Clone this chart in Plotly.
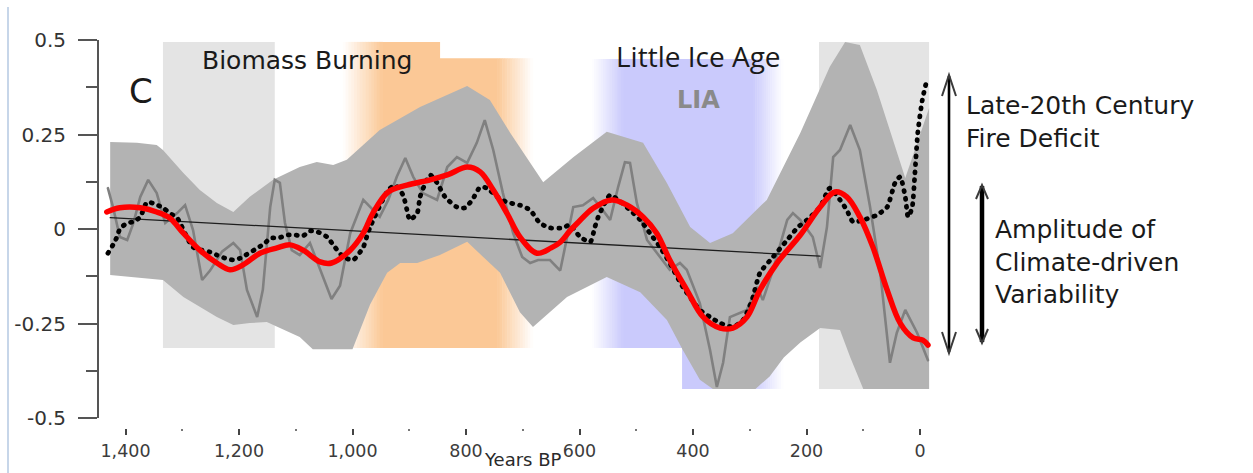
import plotly.graph_objects as go

# ---------------- data ----------------
band_upper_years = [1427, 1380, 1345, 1334, 1298, 1269, 1239, 1210, 1181, 1140, 1093, 1063, 1034, 1010,
                    952, 881, 798, 758, 722, 664, 611, 552, 488, 446, 405, 370, 330, 270, 211, 159,
                    132, 106, 76, 48, 26, -16]
band_upper = [0.230, 0.228, 0.222, 0.209, 0.148, 0.103, 0.069, 0.045, 0.085, 0.130, 0.164, 0.177, 0.169, 0.183,
              0.262, 0.323, 0.378, 0.341, 0.254, 0.124, 0.190, 0.257, 0.228, 0.122, 0.005, -0.037, -0.011, 0.077,
              0.254, 0.429, 0.495, 0.487, 0.368, 0.235, 0.135, 0.320]

band_lower_years = [1427, 1387, 1334, 1298, 1269, 1239, 1210, 1181, 1151, 1133, 1093, 1070, 1000, 969,
                    939, 916, 886, 846, 798, 740, 705, 682, 622, 552, 493, 446, 418, 388, 365, 290,
                    265, 240, 211, 176, 141, 123, 100, -16]
band_lower = [-0.122, -0.127, -0.135, -0.180, -0.206, -0.233, -0.254, -0.249, -0.246, -0.259, -0.286, -0.318,
              -0.318, -0.200, -0.116, -0.090, -0.090, -0.069, -0.034, -0.116, -0.220, -0.259, -0.180, -0.127,
              -0.167, -0.241, -0.320, -0.399, -0.423, -0.423, -0.390, -0.340, -0.300, -0.262, -0.267, -0.339,
              -0.423, -0.423]

grey_years = [1431, 1422, 1410, 1397, 1386, 1374, 1360, 1345, 1330, 1309, 1295, 1281, 1265, 1251, 1230,
              1210, 1198, 1186, 1168, 1158, 1145, 1137, 1128, 1119, 1107, 1093, 1075, 1057, 1037, 1022,
              1004, 981, 969, 952, 937, 922, 907, 893, 876, 851, 833, 816, 798, 781, 767,
              752, 735, 717, 701, 687, 673, 652, 634, 611, 594, 576, 559, 546, 532, 520,
              511, 499, 481, 441, 423, 411, 388, 370, 358, 347, 335, 305, 287, 277, 259,
              234, 224, 211, 189, 176, 164, 153, 141, 123, 106, 88, 70, 53, 41, 26,
              5, -14]
grey_vals = [0.108, 0.058, -0.021, -0.029, 0.016, 0.085, 0.130, 0.095, 0.016, 0.042, 0.063, -0.003, -0.135, -0.110, -0.060,
             -0.037, -0.056, -0.161, -0.233, -0.161, 0.058, 0.130, 0.122, 0.016, -0.056, -0.069, -0.037, -0.108, -0.185, -0.150,
             -0.011, 0.077, 0.058, 0.032, 0.077, 0.138, 0.188, 0.138, 0.095, 0.077, 0.164, 0.190, 0.175, 0.228, 0.288,
             0.209, 0.095, -0.011, -0.074, -0.090, -0.082, -0.082, -0.110, 0.058, 0.063, 0.082, 0.050, 0.024, 0.111, 0.177,
             0.175, 0.069, -0.029, -0.108, -0.090, -0.108, -0.196, -0.320, -0.418, -0.354, -0.233, -0.214, -0.153, -0.188, -0.108,
             0.024, 0.042, 0.024, -0.021, -0.103, 0.005, 0.190, 0.209, 0.275, 0.209, 0.058, -0.116, -0.354, -0.275, -0.214,
             -0.275, -0.347]

dot_years = [1431, 1422, 1415, 1410, 1397, 1386, 1374, 1362, 1348, 1334,
             1322, 1309, 1281, 1251, 1239, 1225, 1210, 1198, 1154, 1145,
             1131, 1115, 1101, 1087, 1075, 1061, 1045, 1031, 1016, 999,
             981, 975, 969, 937, 925, 911, 904, 899, 886, 881,
             869, 863, 851, 837, 816, 802, 789, 775, 763, 745,
             728, 705, 687, 670, 652, 629, 617, 599, 581, 573,
             567, 559, 546, 532, 511, 493, 476, 458, 441, 418,
             388, 370, 352, 330, 312, 296, 282, 259, 234, 215,
             199, 176, 159, 141, 129, 118, 100, 76, 58, 44,
             35, 26, 21, 14, 9, 4, -4, -12]
dot_vals = [-0.064, -0.042, -0.021, 0.000, 0.016, 0.019, 0.032, 0.071, 0.066, 0.056,
            0.042, 0.029, -0.048, -0.061, -0.069, -0.077, -0.082, -0.077, -0.037, -0.024,
            -0.024, -0.016, -0.016, -0.018, -0.005, -0.008, -0.021, -0.048, -0.074, -0.082,
            -0.048, -0.021, 0.005, 0.103, 0.116, 0.090, 0.050, 0.024, 0.042, 0.085,
            0.130, 0.143, 0.122, 0.085, 0.058, 0.056, 0.077, 0.111, 0.108, 0.085,
            0.071, 0.063, 0.050, 0.016, 0.003, 0.003, 0.011, -0.021, -0.034, 0.005,
            0.032, 0.058, 0.090, 0.077, 0.050, 0.024, -0.011, -0.048, -0.090, -0.153,
            -0.214, -0.233, -0.249, -0.259, -0.241, -0.188, -0.116, -0.074, -0.029, 0.005,
            0.024, 0.058, 0.108, 0.077, 0.050, 0.019, 0.024, 0.037, 0.058, 0.122,
            0.138, 0.085, 0.032, 0.056, 0.148, 0.254, 0.341, 0.394]

red_years = [1433, 1410, 1374, 1345, 1322, 1298, 1269, 1239, 1216, 1193, 1163, 1133, 1110, 1087, 1057,
             1037, 1004, 981, 964, 937, 904, 863, 833, 798, 775, 752, 728, 705, 675, 650,
             634, 617, 604, 576, 543, 516, 488, 464, 441, 411, 382, 352, 330, 305, 282,
             252, 211, 176, 150, 129, 106, 83, 58, 35, 12, -5, -14]
red_vals = [0.045, 0.056, 0.056, 0.045, 0.029, -0.011, -0.056, -0.090, -0.108, -0.095, -0.064, -0.050, -0.042, -0.056, -0.087,
            -0.090, -0.056, -0.011, 0.042, 0.098, 0.116, 0.130, 0.143, 0.164, 0.151, 0.103, 0.042, -0.021, -0.064, -0.050,
            -0.035, -0.005, 0.015, 0.055, 0.077, 0.063, 0.032, -0.011, -0.082, -0.161, -0.233, -0.262, -0.262, -0.233, -0.161,
            -0.090, -0.016, 0.058, 0.098, 0.085, 0.032, -0.048, -0.161, -0.249, -0.288, -0.294, -0.307]

trend_years = [1427, 176]
trend_vals = [0.030, -0.072]

x_tick_vals = [1400, 1200, 1000, 800, 600, 400, 200, 0]
x_tick_text = ["1,400", "1,200", "1,000", "800", "600", "400", "200", "0"]
x_minor_vals = [1300, 1100, 900, 700, 500, 300, 100]
y_tick_vals = [-0.5, -0.25, 0, 0.25, 0.5]
y_tick_text = ["-0.5", "-0.25", "0", "0.25", "0.5"]
y_minor_vals = [-0.375, -0.125, 0.125, 0.375]

# period boundaries (years BP) and extents
biomass_grey = (1334, 1137)
recent_grey = (178, -16)
orange_period = (1017, 947, 745, 682)   # fade start, full start, full end, fade end
orange_step = 846
lia_period = (578, 523, 294, 241)
lia_ext_start = 419

# ---------------- layout helpers ----------------
W, H = 1253, 473


def px(p):
    return p / W


def py(p):
    return 1 - p / H


def blend(rgb, t):
    r, g, b = rgb
    return "rgb(%d,%d,%d)" % (round(255 + (r - 255) * t), round(255 + (g - 255) * t), round(255 + (b - 255) * t))


shapes = []


def rect(x0, x1, y0, y1, color):
    shapes.append(dict(type="rect", xref="x", yref="y", x0=x0, x1=x1, y0=y0, y1=y1,
                       fillcolor=color, line=dict(width=0), layer="below"))


def gradient_region(a, b, c, d, y0, y1, rgb, n=14):
    # a->b fade in, b->c full, c->d fade out (years decreasing left to right)
    if a != b:
        step = (a - b) / n
        for i in range(n):
            xs = a - i * step
            rect(xs + 0.3, xs - step - 0.6, y0, y1, blend(rgb, (i + 0.5) / n))
    rect(b + 0.3, c - 0.3, y0, y1, blend(rgb, 1))
    if c != d:
        step = (c - d) / n
        for i in range(n):
            xs = c - i * step
            rect(xs + 0.3, xs - step - 0.6, y0, y1, blend(rgb, 1 - (i + 0.5) / n))


ORANGE = (251, 200, 150)
BLUE = (202, 202, 252)

rect(biomass_grey[0], biomass_grey[1], -0.315, 0.495, "#e4e4e4")
rect(recent_grey[0], recent_grey[1], -0.423, 0.495, "#e4e4e4")
a, b, c, d = orange_period
gradient_region(a, b, c, d, -0.315, 0.452, ORANGE)
gradient_region(a, b, orange_step, orange_step, 0.449, 0.495, ORANGE)
a, b, c, d = lia_period
gradient_region(a, b, c, d, -0.315, 0.45, BLUE)
gradient_region(lia_ext_start, lia_ext_start, c, d, -0.423, -0.313, BLUE)

# left frame line
shapes.append(dict(type="line", xref="paper", yref="paper", x0=px(8), x1=px(8), y0=py(7), y1=py(473),
                   line=dict(color="#b4c8e2", width=1.5)))


# right-hand arrows (paper coords)
def vline(x, y0, y1, w):
    shapes.append(dict(type="line", xref="paper", yref="paper", x0=px(x), x1=px(x), y0=py(y0), y1=py(y1),
                       line=dict(color="#000000", width=w)))


def chevron(x, tip, half, length, direction):
    yb = tip + length * direction
    path = "M %f,%f L %f,%f L %f,%f" % (px(x - half), py(yb), px(x), py(tip), px(x + half), py(yb))
    shapes.append(dict(type="path", xref="paper", yref="paper", path=path,
                       line=dict(color="#3a3a3a", width=2)))


vline(949, 76, 352, 2.6)
chevron(949, 75, 7, 21, 1)
chevron(949, 353, 7, 21, -1)
vline(982, 186, 342, 4.5)
chevron(982, 185, 6, 14, 1)
chevron(982, 343, 6, 14, -1)

# ---------------- figure ----------------
fig = go.Figure()
fig.add_trace(go.Scatter(x=band_upper_years + band_lower_years[::-1],
                         y=band_upper + band_lower[::-1],
                         fill="toself", fillcolor="#b3b3b3", mode="lines", line=dict(width=0),
                         hoverinfo="skip", showlegend=False))
fig.add_trace(go.Scatter(x=grey_years, y=grey_vals, mode="lines",
                         line=dict(color="#808080", width=2.6), showlegend=False))
fig.add_trace(go.Scatter(x=trend_years, y=trend_vals, mode="lines",
                         line=dict(color="#1e1e1e", width=1.3), showlegend=False))
fig.add_trace(go.Scatter(x=dot_years, y=dot_vals, mode="lines",
                         line=dict(color="#000000", width=4.8, dash="1px,7px", shape="spline", smoothing=0.6),
                         showlegend=False))
fig.add_trace(go.Scatter(x=red_years, y=red_vals, mode="lines",
                         line=dict(color="#ff0000", width=5.5, shape="spline", smoothing=1.0),
                         showlegend=False))

annotations = []


def label(text, x, top, size, family="DejaVu Sans", color="#1a1a1a", xanchor="left", yanchor="top"):
    annotations.append(dict(text=text, x=px(x), y=py(top), xref="paper", yref="paper",
                            xanchor=xanchor, yanchor=yanchor, showarrow=False, align="left",
                            font=dict(family=family, size=size, color=color)))


label("C", 127, 69, 34)
label("Biomass Burning", 200, 44, 25)
label("Little Ice Age", 614, 35, 28, family="Open Sans")
label("<b>LIA</b>", 675, 84, 24, color="#8a8a8a")
label("Late-20th Century<br>Fire Deficit", 964, 89, 25)
label("Amplitude of<br>Climate-driven<br>Variability", 993, 213, 25)
label("Years BP", 523, 472, 18, color="#2a2a2a", xanchor="center", yanchor="bottom")

fig.update_layout(
    width=W, height=H,
    margin=dict(l=0, r=0, t=0, b=0, autoexpand=False),
    paper_bgcolor="white", plot_bgcolor="white",
    showlegend=False,
    shapes=shapes,
    annotations=annotations,
    xaxis=dict(domain=[px(99), px(940)], range=[1446.7, -35.2], automargin=False,
               tickmode="array", tickvals=x_tick_vals, ticktext=x_tick_text,
               ticks="outside", ticklen=6, tickwidth=2, tickcolor="#444444",
               minor=dict(tickmode="array", tickvals=x_minor_vals, ticks="outside", ticklen=2,
                          tickwidth=1.5, tickcolor="#777777"),
               showline=False, showgrid=False, zeroline=False,
               anchor="free", position=py(428),
               tickfont=dict(family="DejaVu Sans", size=17.5, color="#3c3c3c"),
               ticklabelstandoff=1),
    yaxis=dict(domain=[py(418), py(40)], range=[-0.5, 0.5], automargin=False,
               tickmode="array", tickvals=y_tick_vals, ticktext=y_tick_text,
               ticks="outside", ticklen=19, tickwidth=2, tickcolor="#555555",
               minor=dict(tickmode="array", tickvals=y_minor_vals, ticks="outside", ticklen=11,
                          tickwidth=2, tickcolor="#555555"),
               showline=True, linecolor="#555555", linewidth=2,
               showgrid=False, zeroline=False,
               tickfont=dict(family="DejaVu Sans", size=20, color="#333333"),
               ticklabelstandoff=8),
)

post_js = """
document.body.style.margin = '0';
document.body.style.overflow = 'hidden';
var gd = document.getElementById('{plot_id}');
gd.querySelectorAll('.scatterlayer path.js-line').forEach(function(p){ p.style.strokeLinecap = 'round'; });
"""

fig.write_html("out.html", post_script=post_js, config={"displayModeBar": False})
